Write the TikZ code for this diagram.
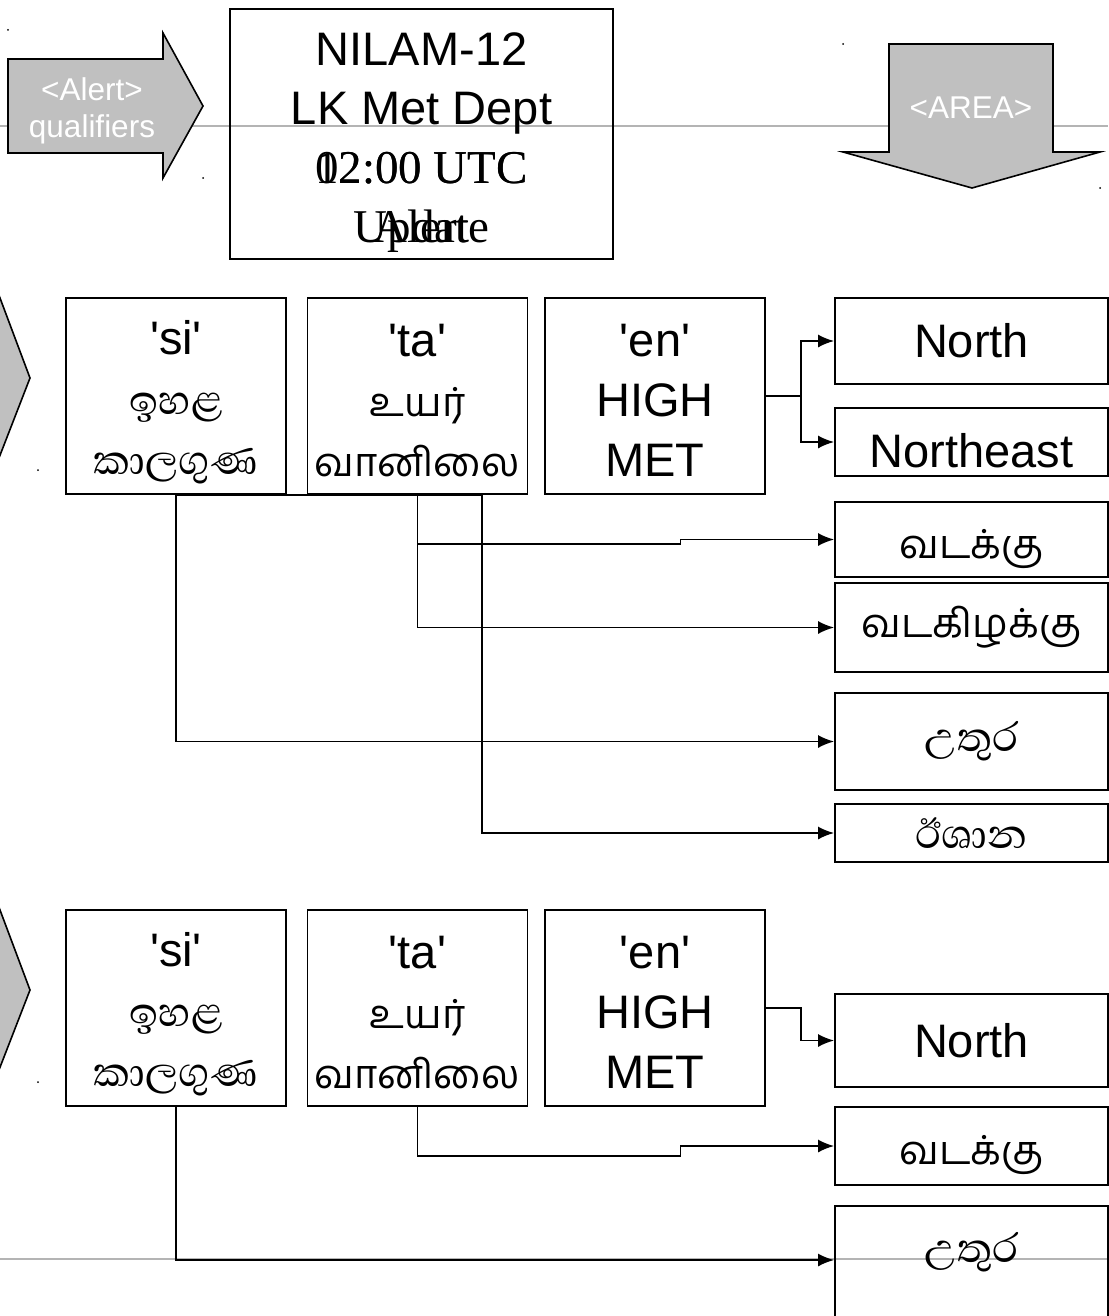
\documentclass[tikz,border=0pt]{standalone}
\usepackage{fontspec}
\setmainfont{Liberation Sans}[Ligatures=TeXOff]
\newfontfamily\serifrm{Liberation Serif}
\newfontfamily\sinhfont[Script=Sinhala]{Abhaya Libre}
\newfontfamily\tamfont[Script=Tamil]{Hind Madurai}
\usetikzlibrary{arrows.meta}
\definecolor{arrowgray}{RGB}{192,192,192}
\definecolor{linegray}{RGB}{180,180,180}
\tikzset{
  box/.style={draw, line width=1.8pt, inner sep=0pt, align=center,
    font=\fontsize{47}{60}\selectfont},
  langbox/.style={box, minimum width=220pt, minimum height=196pt},
  areabox/.style={box, minimum width=273pt},
  conn/.style={line width=1.8pt, -{Latex[length=16pt,width=13pt]}},
  bigarrow/.style={fill=arrowgray, draw=black, line width=1.6pt, line join=miter},
  arrowtext/.style={text=white, align=center, inner sep=0pt,
    font=\fontsize{31.5}{37}\selectfont},
}
\newcommand{\SItxt}[1]{{\sinhfont\fontsize{52}{60}\selectfont #1}}
\newcommand{\TAtxt}[1]{{\tamfont\fontsize{40}{60}\selectfont #1}}
\newcommand{\topstrut}[1]{\rule{0pt}{#1}}
\begin{document}
\begin{tikzpicture}[x=1pt,y=-1pt]
\useasboundingbox (0,0) rectangle (1108,1316);
% faint guide lines
\draw[linegray, line width=2pt] (0,126) -- (1108,126);
\draw[linegray, line width=2pt] (0,1259) -- (1108,1259);

% big gray arrows
\draw[bigarrow] (8,59) -- (163,59) -- (163,33) -- (203,106) -- (163,178) -- (163,153) -- (8,153) -- cycle;
\node[arrowtext] (alert) at (92,111) {<Alert>\\qualifiers};
\draw[bigarrow] (889,44) -- (1053,44) -- (1053,152) -- (1100,152) -- (972,188) -- (843,152) -- (889,152) -- cycle;
\node[arrowtext] (area) at (971,108) {<AREA>};
\draw[bigarrow] (-3,290) -- (30,378) -- (-3,463) -- cycle;
\draw[bigarrow] (-3,902) -- (30,990) -- (-3,1075) -- cycle;

% tiny corner dots
\foreach \p in {(8,30),(203,178),(843,44),(1100,188),(38,470),(38,1082)}
  \fill \p circle (1pt);

% title box
\node[box, minimum width=383pt, minimum height=250pt, font=\fontsize{47}{58.7}\selectfont] (title) at (421.5,134)
  {\topstrut{50pt}NILAM-12\\LK Met Dept\\{\serifrm\makebox[0pt]{02:00 UTC}\makebox[0pt]{12:00 UTC}}\\{\serifrm\makebox[0pt]{Update}\makebox[0pt]{Alert}}};

% row 1
\node[langbox] (si1) at (176,396) {\topstrut{46pt}'si'\\\SItxt{ඉහළ}\\\SItxt{කාලගුණ}};
\node[langbox] (ta1) at (417.5,396) {\topstrut{41pt}'ta'\\\TAtxt{உயர்}\\\TAtxt{வானிலை}};
\node[langbox] (en1) at (655,396) {\topstrut{40pt}'en'\\HIGH\\MET};

\node[areabox, minimum height=86pt] (n1) at (971.5,341) {North};
\node[areabox, minimum height=68pt, text height=50pt, text depth=0pt] (ne1) at (971.5,442) {Northeast};
\node[areabox, minimum height=75pt] (tn1) at (971.5,539.5) {\topstrut{48pt}\TAtxt{வடக்கு}};
\node[areabox, minimum height=89pt] (tne1) at (971.5,627.5) {\TAtxt{வடகிழக்கு}};
\node[areabox, minimum height=97pt] (sn1) at (971.5,741.5) {\SItxt{උතුර}};
\node[areabox, minimum height=58pt] (sne1) at (971.5,833) {\SItxt{ඊශාන}};

\draw[conn] (en1.east) -- ++(35,0) |- (n1.west);
\draw[conn] (en1.east) -- ++(35,0) |- (ne1.west);
\draw[conn] (ta1.south) -- ++(0,49) -- ++(263,0) |- (tn1.west);
\draw[conn] (ta1.south) |- (tne1.west);
\draw[conn] (si1.south) |- (sn1.west);
\draw[conn] (si1.south) -- ++(306,0) |- (sne1.west);

% row 2
\node[langbox] (si2) at (176,1008) {\topstrut{46pt}'si'\\\SItxt{ඉහළ}\\\SItxt{කාලගුණ}};
\node[langbox] (ta2) at (417.5,1008) {\topstrut{41pt}'ta'\\\TAtxt{உயர்}\\\TAtxt{வானிலை}};
\node[langbox] (en2) at (655,1008) {\topstrut{40pt}'en'\\HIGH\\MET};

\node[areabox, minimum height=93pt] (n2) at (971.5,1040.5) {North};
\node[areabox, minimum height=78pt] (tn2) at (971.5,1146) {\topstrut{48pt}\TAtxt{வடக்கு}};
\node[areabox, anchor=north, text height=57pt, text depth=80pt] (sn2) at (971.5,1205) {\SItxt{උතුර}};

\draw[conn] (en2.east) -- ++(35,0) |- (n2.west);
\draw[conn] (ta2.south) -- ++(0,49) -- ++(263,0) |- (tn2.west);
\draw[conn] (si2.south) |- ([yshift=-55pt]sn2.north west);
\end{tikzpicture}
\end{document}
